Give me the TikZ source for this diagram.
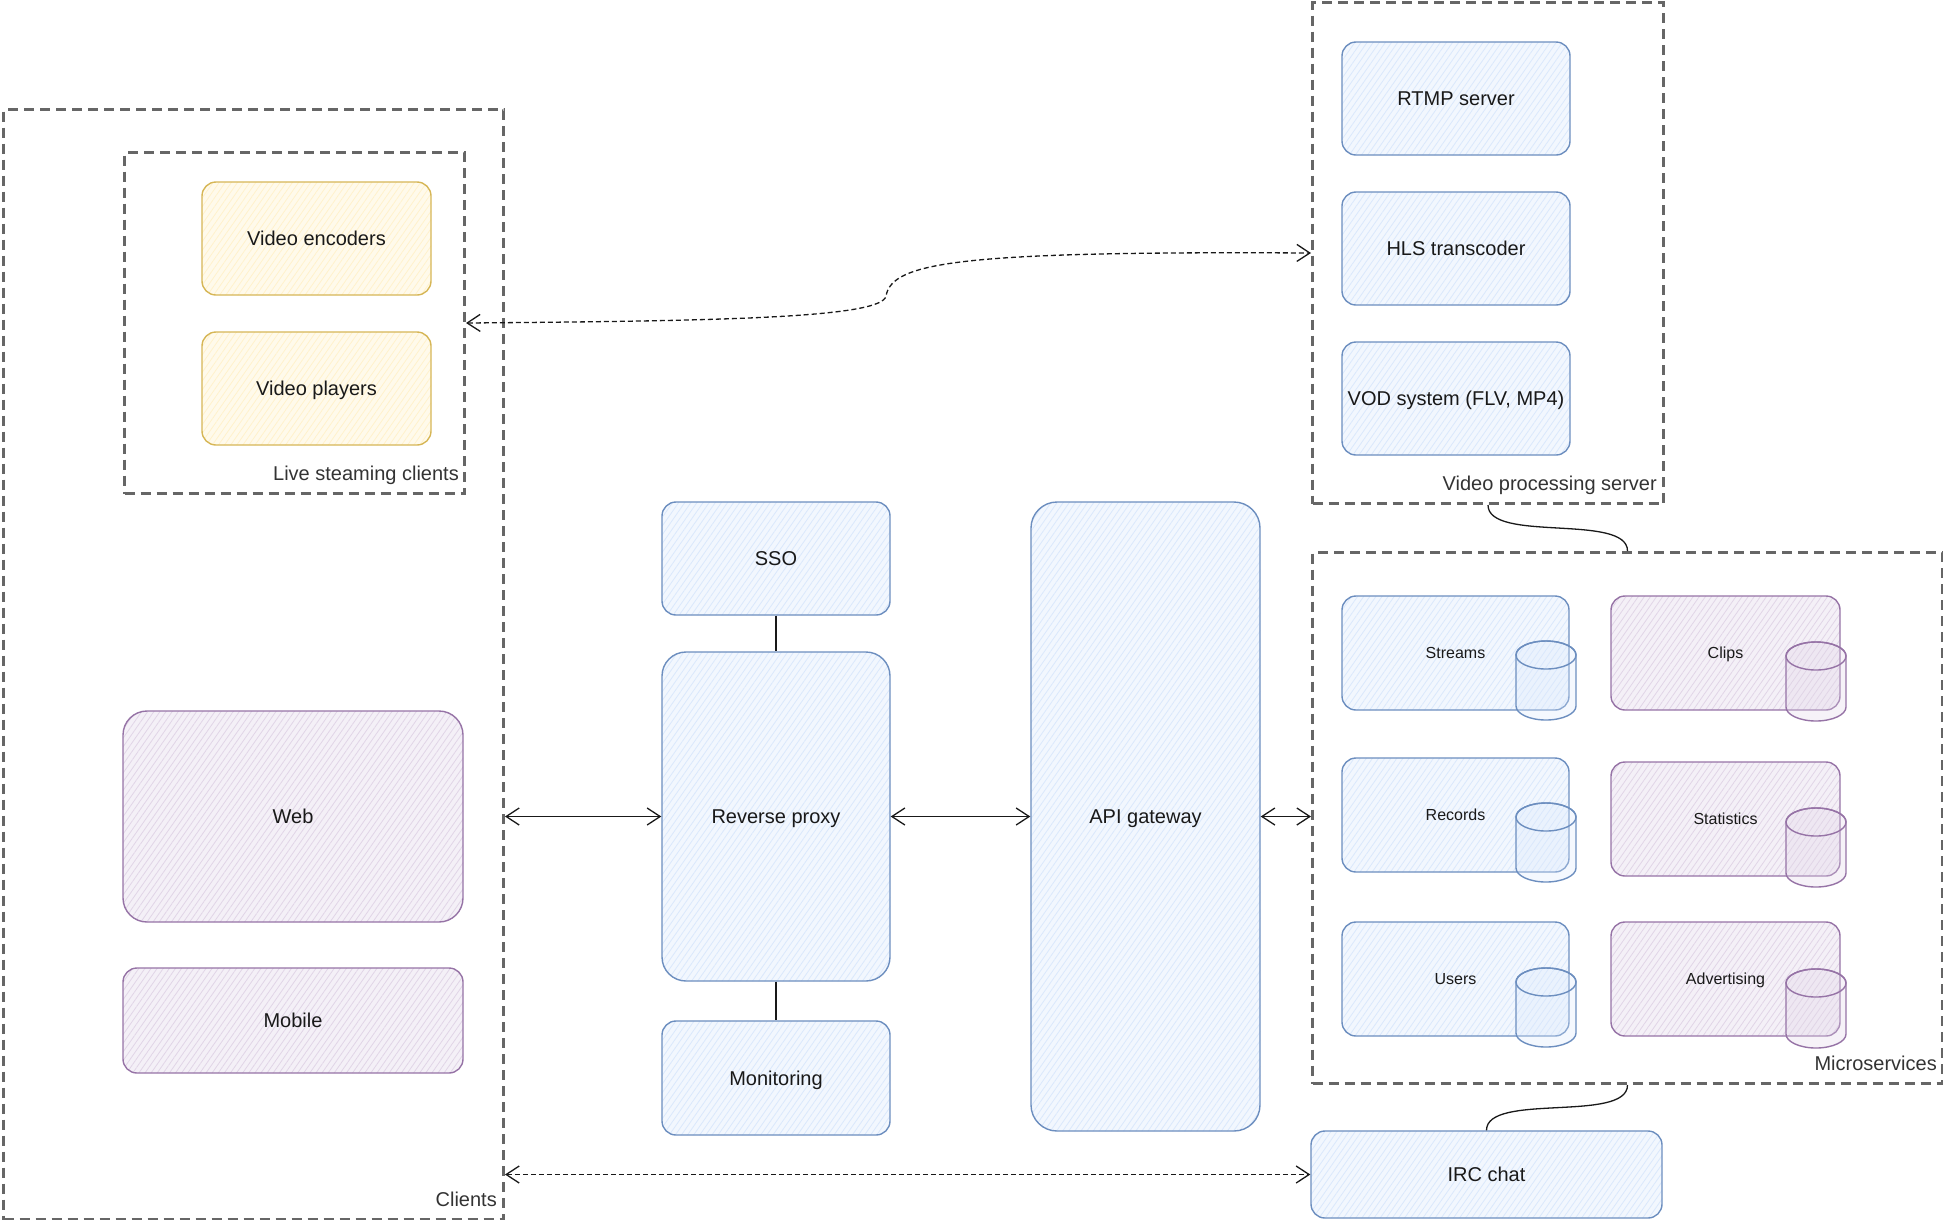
\documentclass[tikz,border=0pt]{standalone}
\usepackage{fontspec}
\setmainfont{Liberation Sans}
\usetikzlibrary{arrows.meta,patterns.meta}
\definecolor{bfill}{HTML}{DAE8FC}
\definecolor{bdraw}{HTML}{6C8EBF}
\definecolor{yfill}{HTML}{FFF2CC}
\definecolor{ydraw}{HTML}{D6B656}
\definecolor{pfill}{HTML}{E1D5E7}
\definecolor{pdraw}{HTML}{9673A6}
\definecolor{gdraw}{HTML}{666666}
\definecolor{gtext}{HTML}{333333}
\tikzset{
  box/.style={rectangle, rounded corners=14pt, line width=1.4pt, inner sep=2pt,
    font=\fontsize{20}{24}\selectfont, text=black!90, text height=14pt, text depth=0pt},
  bluebox/.style={box, draw=bdraw, preaction={fill=bfill!35!white},
    pattern={Lines[angle=55,distance=5pt,line width=0.8pt]}, pattern color=bfill},
  yellowbox/.style={box, draw=ydraw, preaction={fill=yfill!40!white},
    pattern={Lines[angle=55,distance=5pt,line width=0.8pt]}, pattern color=yfill},
  purplebox/.style={box, draw=pdraw, preaction={fill=pfill!35!white},
    pattern={Lines[angle=55,distance=5pt,line width=0.8pt]}, pattern color=pfill},
  small/.style={font=\fontsize{16}{19}\selectfont, text height=11.5pt},
  bluecyl/.style={draw=bdraw, line width=1.4pt, fill=bfill, fill opacity=0.3, draw opacity=1},
  purplecyl/.style={draw=pdraw, line width=1.4pt, fill=pfill, fill opacity=0.3, draw opacity=1},
  group/.style={rectangle, draw=gdraw, line width=3pt, dash pattern=on 10pt off 6pt, inner sep=0pt, anchor=north west},
  glabel/.style={font=\fontsize{20}{24}\selectfont, text=gtext, inner sep=0pt, anchor=base east},
  dbl/.style={line width=1.3pt, draw=black!90, {Straight Barb[length=13pt,width=17pt]}-{Straight Barb[length=13pt,width=17pt]}},
  dasharr/.style={dbl, dash pattern=on 5pt off 3pt},
  conn/.style={line width=1.3pt, draw=black!90},
}
\newcommand{\dbcyl}[4]{%
  \coordinate (#1) at (#2,#3);
  \path[#4] ([shift={(-30,-25.5)}]#1) -- ([shift={(-30,25.5)}]#1)
    arc[start angle=180,end angle=0,x radius=30,y radius=14]
    -- ([shift={(30,-25.5)}]#1)
    arc[start angle=0,end angle=-180,x radius=30,y radius=14] -- cycle;
  \draw[#4, fill opacity=0] ([shift={(0,-25.5)}]#1) ellipse[x radius=30, y radius=14];
}
\begin{document}
\begin{tikzpicture}[x=1pt,y=-1pt]
\useasboundingbox (0,0) rectangle (1943,1219);

% groups
\node[group, minimum width=500pt, minimum height=1110pt] (clients) at (2,108) {};
\node[group, minimum width=340pt, minimum height=341pt] (lsc) at (123,151) {};
\node[group, minimum width=351pt, minimum height=501pt] (vps) at (1311,1) {};
\node[group, minimum width=630pt, minimum height=531pt] (ms) at (1311,551) {};

\node[glabel] (lsclabel) at ([shift={(-7,-15)}]lsc.south east) {Live steaming clients};
\node[glabel] (vpslabel) at ([shift={(-8,-15)}]vps.south east) {Video processing server};
\node[glabel] (mslabel) at ([shift={(-7,-15)}]ms.south east) {Microservices};
\node[glabel] (clientslabel) at ([shift={(-8,-15)}]clients.south east) {Clients};

% clients
\node[yellowbox, minimum width=229pt, minimum height=113pt] (venc) at (316.5,238.5) {Video encoders};
\node[yellowbox, minimum width=229pt, minimum height=113pt] (vplay) at (316.5,388.5) {Video players};
\node[purplebox, rounded corners=24pt, minimum width=340pt, minimum height=211pt] (web) at (293,816.5) {Web};
\node[purplebox, minimum width=340pt, minimum height=105pt] (mobile) at (293,1020.5) {Mobile};

% middle
\node[bluebox, minimum width=228pt, minimum height=113pt] (sso) at (776,558.5) {SSO};
\node[bluebox, rounded corners=24pt, minimum width=228pt, minimum height=329pt] (rp) at (776,816.5) {Reverse proxy};
\node[bluebox, minimum width=228pt, minimum height=114pt] (mon) at (776,1078) {Monitoring};
\node[bluebox, rounded corners=26pt, minimum width=229pt, minimum height=629pt] (api) at (1145.5,816.5) {API gateway};

% video processing
\node[bluebox, minimum width=228pt, minimum height=113pt] (rtmp) at (1456,98.5) {RTMP server};
\node[bluebox, minimum width=228pt, minimum height=113pt] (hls) at (1456,248.5) {HLS transcoder};
\node[bluebox, minimum width=228pt, minimum height=113pt] (vod) at (1456,398.5) {VOD system (FLV, MP4)};

% microservices
\node[bluebox, small, minimum width=227pt, minimum height=114pt] (streams) at (1455.5,653) {Streams};
\node[purplebox, small, minimum width=229pt, minimum height=114pt] (clips) at (1725.5,653) {Clips};
\node[bluebox, small, minimum width=227pt, minimum height=114pt] (records) at (1455.5,815) {Records};
\node[purplebox, small, minimum width=229pt, minimum height=114pt] (stats) at (1725.5,819) {Statistics};
\node[bluebox, small, minimum width=227pt, minimum height=114pt] (users) at (1455.5,979) {Users};
\node[purplebox, small, minimum width=229pt, minimum height=114pt] (adv) at (1725.5,979) {Advertising};

\dbcyl{cylstreams}{1546}{680.5}{bluecyl}
\dbcyl{cylclips}{1816}{681.5}{purplecyl}
\dbcyl{cylrecords}{1546}{842.5}{bluecyl}
\dbcyl{cylstats}{1816}{847.5}{purplecyl}
\dbcyl{cylusers}{1546}{1007.5}{bluecyl}
\dbcyl{cyladv}{1816}{1008.5}{purplecyl}

% IRC
\node[bluebox, minimum width=351pt, minimum height=87pt] (irc) at (1486.5,1174.5) {IRC chat};

% connectors
\draw[dbl] (clients.east |- rp.west) -- (rp.west);
\draw[dbl] (rp.east) -- (api.west);
\draw[dbl] (api.east) -- (ms.west |- api.east);
\draw[conn] (sso.south) -- (rp.north);
\draw[conn] (rp.south) -- (mon.north);
\draw[conn] (vps.south) .. controls +(0,38) and +(0,-38) .. (ms.north);
\draw[conn] (ms.south) .. controls +(0,38) and +(0,-38) .. (irc.north);
\draw[dasharr] (lsc.east) .. controls (720,321) and (882,318) .. (886,296)
   .. controls (892,262) and (960,251) .. (vps.west);
\draw[dasharr] (clients.east |- irc.west) -- (irc.west);
\end{tikzpicture}
\end{document}
